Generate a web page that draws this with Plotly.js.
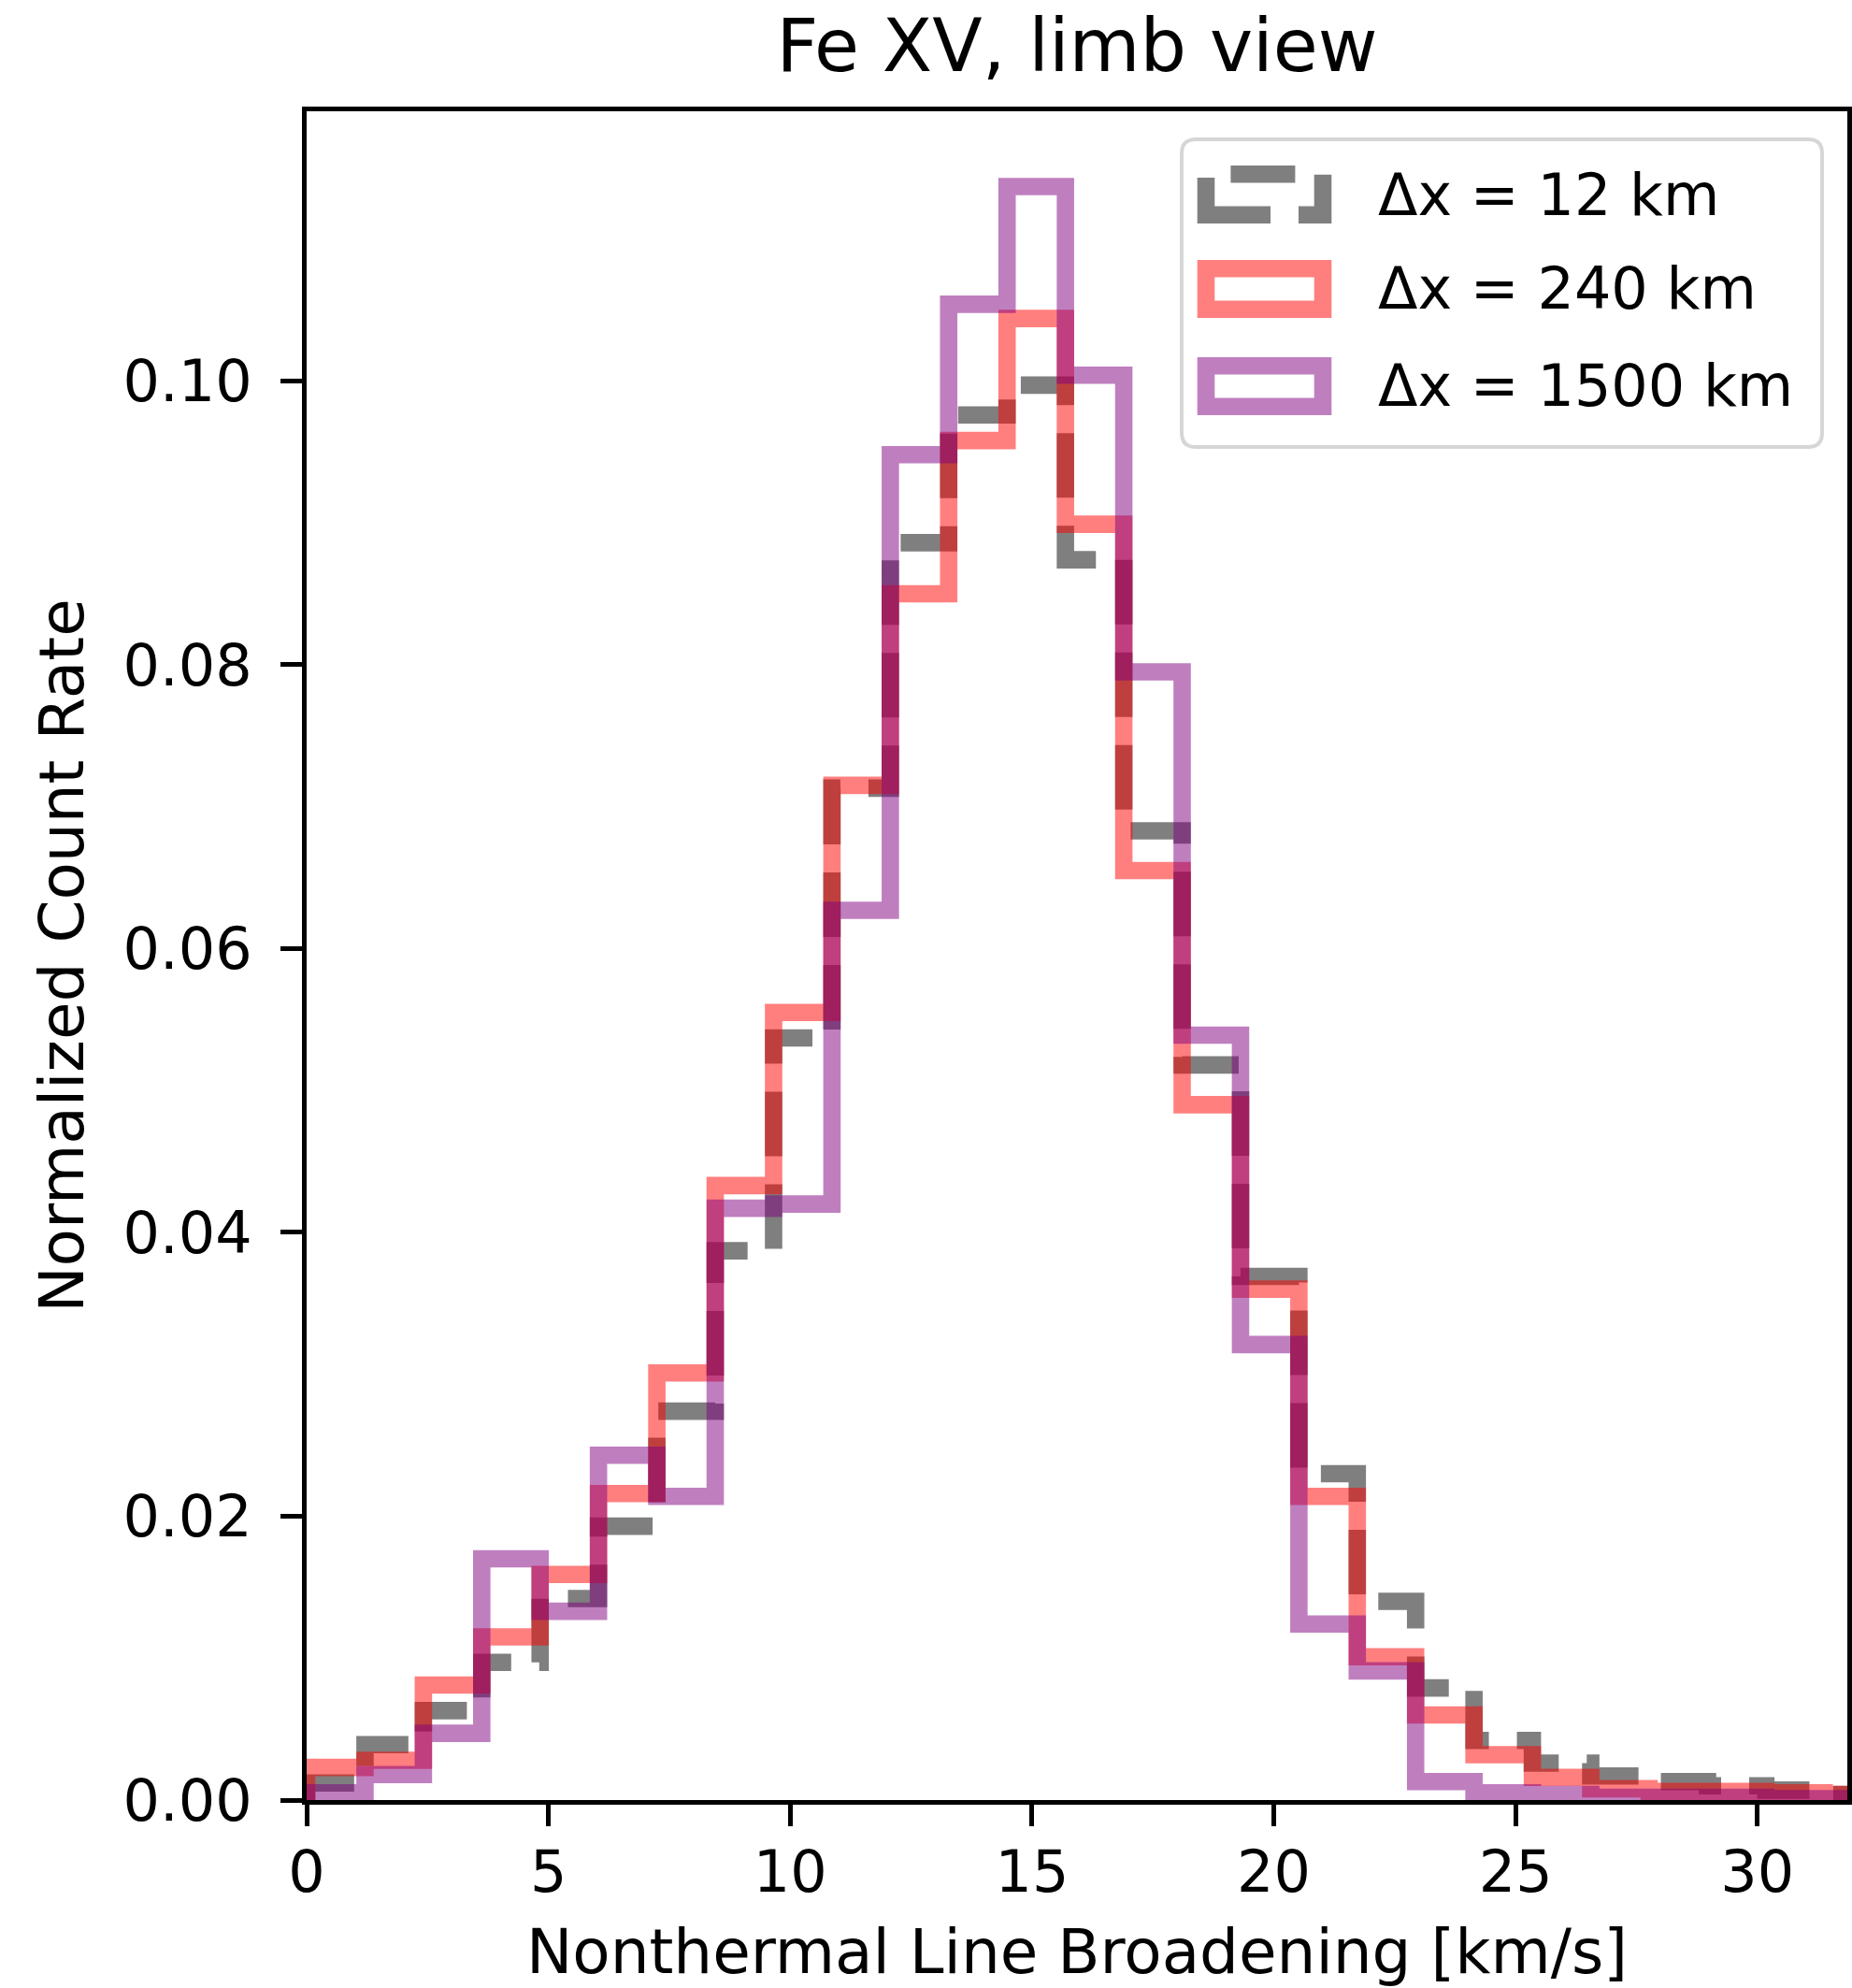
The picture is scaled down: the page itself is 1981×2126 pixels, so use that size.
<!DOCTYPE html>
<html>
<head>
<meta charset="utf-8">
<script src="https://cdn.plot.ly/plotly-3.0.1.min.js"></script>
<style>
  html, body { margin: 0; padding: 0; background: #ffffff; }
  #chart { width: 1981px; height: 2126px; }
</style>
</head>
<body>
<div id="chart"></div>
<script>
// ---------------- data ----------------
const binEdges = [0, 1.207, 2.414, 3.621, 4.828, 6.035, 7.242, 8.449, 9.656, 10.863,
  12.070, 13.277, 14.484, 15.691, 16.898, 18.105, 19.312, 20.519, 21.726, 22.933,
  24.140, 25.347, 26.554, 27.761, 28.968, 30.175, 31.382, 32.589];

const rate12km = [0.0012, 0.0039, 0.0063, 0.0097, 0.0142, 0.0193, 0.0274, 0.0387, 0.0537,
  0.0713, 0.0886, 0.0976, 0.0997, 0.0874, 0.0683, 0.0518, 0.0369, 0.0230, 0.0140,
  0.0079, 0.0042, 0.0026, 0.0017, 0.0013, 0.0010, 0.0007, 0.0004];

const rate240km = [0.0023, 0.0028, 0.0081, 0.0115, 0.0159, 0.0216, 0.0301, 0.0433, 0.0555,
  0.0715, 0.0850, 0.0958, 0.1044, 0.0899, 0.0655, 0.0490, 0.0360, 0.0214, 0.0101,
  0.0060, 0.0032, 0.0016, 0.0008, 0.0006, 0.0006, 0.0005, 0.0004];

const rate1500km = [0.0005, 0.0018, 0.0047, 0.0170, 0.0133, 0.0243, 0.0214, 0.0417, 0.0420,
  0.0627, 0.0948, 0.1054, 0.1137, 0.1004, 0.0795, 0.0539, 0.0321, 0.0124, 0.0091,
  0.0013, 0.0005, 0.0004, 0.0002, 0.0002, 0.0002, 0.0001, 0.0001];

const seriesNames = ['Δx = 12 km', 'Δx = 240 km', 'Δx = 1500 km'];
const xTickVals = [0, 5, 10, 15, 20, 25, 30];
const yTickVals = [0.00, 0.02, 0.04, 0.06, 0.08, 0.10];

const titleText = 'Fe XV, limb view';
const xTitleText = 'Nonthermal Line Broadening [km/s]';
const yTitleText = 'Normalized Count Rate';

// ---------------- styles ----------------
const FONT = 'DejaVu Sans, Liberation Sans, sans-serif';
const W = 1981, H = 2126;
const M = { l: 328, r: 5, t: 119, b: 201 };
const LW = 18.6;
const DASH = '69px,30px';
const colors = ['rgba(0,0,0,0.5)', 'rgba(255,0,0,0.5)', 'rgba(128,0,128,0.5)'];
const dashes = [DASH, 'solid', 'solid'];

// step outline of a histogram (matplotlib histtype='step')
function stepOutline(edges, heights) {
  const x = [edges[0]], y = [0];
  for (let i = 0; i < heights.length; i++) { x.push(edges[i]); y.push(heights[i]); }
  x.push(edges[heights.length]); y.push(heights[heights.length - 1]);
  x.push(edges[heights.length]); y.push(0);
  return { x, y };
}

const allRates = [rate12km, rate240km, rate1500km];
const traces = allRates.map((r, i) => {
  const s = stepOutline(binEdges, r);
  return {
    type: 'scatter', mode: 'lines', x: s.x, y: s.y, name: seriesNames[i],
    line: { shape: 'hv', color: colors[i], width: LW, dash: dashes[i], simplify: false },
    hoverinfo: 'skip', showlegend: false
  };
});

// ------------- hand-drawn legend (matplotlib-like rectangle handles) -------------
const plotW = W - M.l - M.r, plotH = H - M.t - M.b;
const px = v => (v - M.l) / plotW;        // page px -> paper x
const py = v => (H - M.b - v) / plotH;    // page px -> paper y

const shapes = [];
const annotations = [];
(function buildLegend() {
  const fx0 = px(1264), fx1 = px(1949), fyT = py(149), fyB = py(478);
  const rx = 15 / plotW, ry = 15 / plotH;
  const path = `M ${fx0 + rx},${fyB} L ${fx1 - rx},${fyB} Q ${fx1},${fyB} ${fx1},${fyB + ry} ` +
    `L ${fx1},${fyT - ry} Q ${fx1},${fyT} ${fx1 - rx},${fyT} L ${fx0 + rx},${fyT} ` +
    `Q ${fx0},${fyT} ${fx0},${fyT - ry} L ${fx0},${fyB + ry} Q ${fx0},${fyB} ${fx0 + rx},${fyB} Z`;
  shapes.push({ type: 'path', xref: 'paper', yref: 'paper', path: path,
    fillcolor: 'rgba(255,255,255,0.8)', line: { color: 'rgba(204,204,204,0.8)', width: 4 } });
  const centers = [208, 309, 413];
  const hx0 = px(1290), hx1 = px(1415);
  centers.forEach((c, i) => {
    const yb = py(c + 21.7), yt = py(c - 21.7);
    shapes.push({ type: 'path', xref: 'paper', yref: 'paper',
      path: `M ${hx0},${yb} L ${hx1},${yb} L ${hx1},${yt} L ${hx0},${yt} Z`,
      line: { color: colors[i], width: LW, dash: dashes[i] }, fillcolor: 'rgba(0,0,0,0)' });
    annotations.push({ xref: 'paper', yref: 'paper', x: px(1472), y: py(c),
      xanchor: 'left', yanchor: 'middle', showarrow: false, text: seriesNames[i],
      font: { family: FONT, size: 62, color: '#000' } });
  });
})();

const axisCommon = {
  showline: true, linecolor: '#000', linewidth: 5, mirror: true,
  ticks: 'outside', ticklen: 23, tickwidth: 5, tickcolor: '#000',
  showgrid: false, zeroline: false,
  tickfont: { family: FONT, size: 62, color: '#000' }
};

const layout = {
  width: W, height: H,
  margin: { l: M.l, r: M.r, t: M.t, b: M.b, pad: 0 },
  paper_bgcolor: '#ffffff', plot_bgcolor: '#ffffff',
  font: { family: FONT, color: '#000' },
  showlegend: false,
  title: { text: titleText, x: 0.5, xref: 'paper', xanchor: 'center',
    y: 1 - 76 / H, yref: 'container', yanchor: 'bottom',
    font: { family: FONT, size: 78, color: '#000' } },
  xaxis: Object.assign({}, axisCommon, {
    range: [0, 31.86], tickmode: 'array', tickvals: xTickVals,
    ticktext: xTickVals.map(String), ticklabelstandoff: -4,
    title: { text: xTitleText, font: { family: FONT, size: 66, color: '#000' }, standoff: 64 },
    automargin: false
  }),
  yaxis: Object.assign({}, axisCommon, {
    range: [0, 0.119], tickmode: 'array', tickvals: yTickVals,
    ticktext: yTickVals.map(v => v.toFixed(2)), ticklabelstandoff: 18,
    title: { text: yTitleText, font: { family: FONT, size: 66, color: '#000' }, standoff: 22 },
    automargin: false
  }),
  shapes: shapes,
  annotations: annotations
};

Plotly.newPlot('chart', traces, layout, { displayModeBar: false, staticPlot: true });
</script>
</body>
</html>
